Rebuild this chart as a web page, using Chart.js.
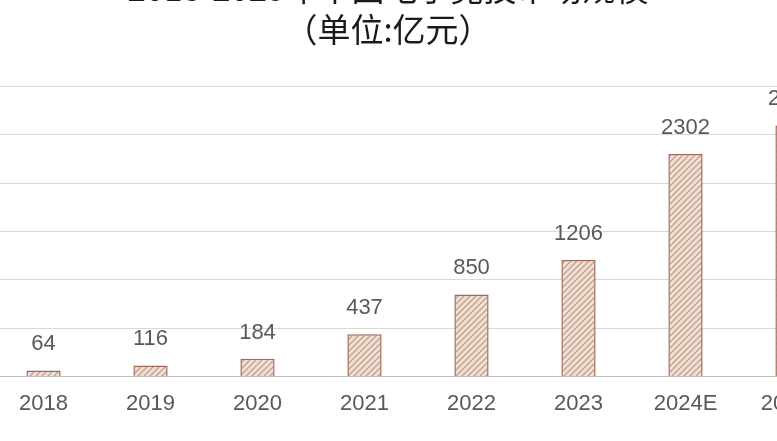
<!DOCTYPE html>
<html>
<head>
<meta charset="utf-8">
<script src="https://cdn.jsdelivr.net/npm/chart.js@4"></script>
<style>
  html, body { margin: 0; padding: 0; background: #fff; overflow: hidden; }
  #wrap { position: absolute; left: -70px; top: -40px; width: 916px; height: 480px; }
</style>
</head>
<body>
<div id="wrap"><canvas id="myChart"></canvas></div>
<script>
// data
const years = ['2018', '2019', '2020', '2021', '2022', '2023', '2024E', '2025E'];
const marketSize = [64, 116, 184, 437, 850, 1206, 2302, 2597];
const yTicks = [0, 500, 1000, 1500, 2000, 2500, 3000];
const titleLines = ['2018-2025年中国电子竞技市场规模', '（单位:亿元）'];

// hatched fill like the original
function hatch() {
  const c = document.createElement('canvas');
  c.width = 6; c.height = 6;
  const g = c.getContext('2d');
  g.fillStyle = '#f3dfd3';
  g.fillRect(0, 0, 6, 6);
  g.strokeStyle = '#c2a08f';
  g.lineWidth = 1.3;
  g.beginPath();
  g.moveTo(-1, 7); g.lineTo(7, -1);
  g.moveTo(-4, 4); g.lineTo(4, -4);
  g.moveTo(2, 10); g.lineTo(10, 2);
  g.stroke();
  return g.createPattern(c, 'repeat');
}

// values above the bars
const valueLabels = {
  id: 'valueLabels',
  afterDatasetsDraw(chart) {
    const ctx = chart.ctx;
    const meta = chart.getDatasetMeta(0);
    ctx.save();
    ctx.font = '22px "Liberation Sans", Arial, sans-serif';
    ctx.fillStyle = '#595959';
    ctx.textAlign = 'center';
    ctx.textBaseline = 'alphabetic';
    meta.data.forEach((bar, i) => {
      ctx.fillText(String(chart.data.datasets[0].data[i]), bar.x, bar.y - 20);
    });
    ctx.restore();
  }
};

var ctx = document.getElementById('myChart').getContext('2d');
var myChart = new Chart(ctx, {
  type: 'bar',
  data: {
    labels: years,
    datasets: [{
      data: marketSize,
      backgroundColor: hatch(),
      borderColor: '#9c6b57',
      borderWidth: 1.5,
      barPercentage: 0.32,
      categoryPercentage: 1
    }]
  },
  options: {
    responsive: true,
    maintainAspectRatio: false,
    animation: false,
    layout: { padding: { left: 0, right: 0, top: 0, bottom: 17 } },
    plugins: {
      legend: { display: false },
      tooltip: { enabled: false },
      title: {
        display: true,
        text: titleLines,
        color: '#1a1a1a',
        font: { family: '"Noto Sans CJK SC", sans-serif', size: 33, weight: 'normal', lineHeight: 1.25 },
        padding: { top: 8, bottom: 36 }
      }
    },
    scales: {
      x: {
        grid: { display: false },
        border: { color: '#bfbfbf', width: 1 },
        ticks: {
          color: '#595959',
          padding: 6,
          font: { family: '"Liberation Sans", Arial, sans-serif', size: 22 }
        }
      },
      y: {
        min: 0,
        max: 3000,
        afterBuildTicks(axis) { axis.ticks = yTicks.map(v => ({ value: v })); },
        afterFit(axis) { axis.width = 60; },
        ticks: { display: false },
        grid: { color: '#d9d9d9', drawTicks: false },
        border: { display: false }
      }
    }
  },
  plugins: [valueLabels]
});
</script>
</body>
</html>
